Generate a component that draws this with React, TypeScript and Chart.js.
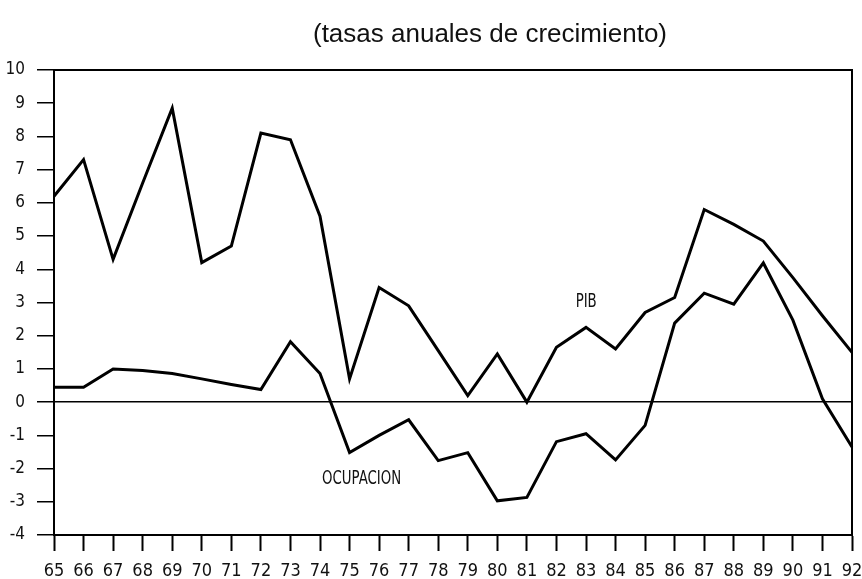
import React, { useEffect, useRef } from "react";
import { Chart, registerables } from "chart.js";

Chart.register(...registerables);

const years = ["65","66","67","68","69","70","71","72","73","74","75","76","77","78","79","80","81","82","83","84","85","86","87","88","89","90","91","92"];
const pib = [6.2, 7.3, 4.3, 6.6, 8.85, 4.2, 4.7, 8.1, 7.9, 5.6, 0.7, 3.45, 2.9, 1.55, 0.2, 1.45, 0.0, 1.65, 2.25, 1.6, 2.7, 3.15, 5.8, 5.35, 4.85, 3.75, 2.6, 1.5];
const ocupacion = [0.45, 0.45, 1.0, 0.95, 0.86, 0.7, 0.53, 0.38, 1.82, 0.86, -1.52, -1.0, -0.53, -1.76, -1.52, -2.97, -2.87, -1.19, -0.95, -1.74, -0.7, 2.38, 3.28, 2.95, 4.19, 2.47, 0.1, -1.35];
const yMin = -4;
const yMax = 10;
const titleText = "(tasas anuales de crecimiento)";
const seriesLabels = ["PIB", "OCUPACION"];
// label anchors in data units (category index, value)
const labelAnchors = [
  { x: 17.65, y: 2.85 },
  { x: 9.07, y: -2.45 },
];

const NARROW = '"Liberation Sans Narrow", "DejaVu Sans Condensed", "Liberation Sans", sans-serif';

const framePlugin = {
  id: "frame",
  afterDraw(chart: any) {
    const { ctx, chartArea } = chart;
    ctx.save();
    ctx.strokeStyle = "#000";
    ctx.lineWidth = 2;
    ctx.beginPath();
    ctx.moveTo(chartArea.left, chartArea.top);
    ctx.lineTo(chartArea.right, chartArea.top);
    ctx.lineTo(chartArea.right, chartArea.bottom);
    ctx.stroke();
    // title
    ctx.fillStyle = "#111";
    ctx.font = '26px "Liberation Sans", Arial, sans-serif';
    ctx.textAlign = "center";
    ctx.textBaseline = "alphabetic";
    ctx.fillText(titleText, 490, 42);
    // series labels
    const xs = chart.scales.x;
    const ys = chart.scales.y;
    ctx.font = "20px " + NARROW;
    ctx.textAlign = "left";
    labelAnchors.forEach((a, i) => {
      const px = xs.getPixelForValue(a.x);
      const py = ys.getPixelForValue(a.y);
      ctx.save();
      ctx.translate(px, py);
      ctx.scale(0.74, 1);
      ctx.fillText(seriesLabels[i], 0, 0);
      ctx.restore();
    });
    ctx.restore();
  },
};

export default function App() {
  const ref = useRef<HTMLCanvasElement | null>(null);
  useEffect(() => {
    if (!ref.current) return;
    const chart = new Chart(ref.current, {
      type: "line",
      data: {
        labels: years,
        datasets: [
          { label: seriesLabels[0], data: pib, borderColor: "#000", borderWidth: 3, pointRadius: 0, tension: 0, fill: false },
          { label: seriesLabels[1], data: ocupacion, borderColor: "#000", borderWidth: 3, pointRadius: 0, tension: 0, fill: false },
        ],
      },
      options: {
        responsive: false,
        animation: false,
        events: [],
        layout: { padding: { top: 70, right: 10, left: 0, bottom: 0 } },
        plugins: { legend: { display: false }, title: { display: false }, tooltip: { enabled: false } },
        scales: {
          x: {
            type: "category",
            offset: false,
            afterFit(scale: any) { scale.height = 44; scale.paddingLeft = 0; scale.paddingRight = 0; },
            grid: { drawOnChartArea: false, tickColor: "#000", tickLength: 16, tickWidth: 2 },
            border: { display: true, color: "#000", width: 2 },
            ticks: { autoSkip: false, maxRotation: 0, color: "#111", padding: 10, font: { family: NARROW, size: 18 } },
          },
          y: {
            min: yMin,
            max: yMax,
            afterFit(scale: any) { scale.width = 54; scale.paddingTop = 0; scale.paddingBottom = 0; },
            grid: {
              color: (c: any) => (c.tick && c.tick.value === 0 ? "#000" : "rgba(0,0,0,0)"),
              lineWidth: 1.5,
              tickColor: "#000",
              tickLength: 17,
              tickWidth: 1.5,
            },
            border: { display: true, color: "#000", width: 2 },
            ticks: { stepSize: 1, color: "#111", padding: 12, font: { family: NARROW, size: 17 } },
          },
        },
      },
      plugins: [framePlugin],
    });
    return () => chart.destroy();
  }, []);
  return (
    <div style={{ position: "absolute", left: 0, top: 0, width: 862, height: 579, background: "#fff" }}>
      <canvas ref={ref} width={862} height={579} />
    </div>
  );
}
